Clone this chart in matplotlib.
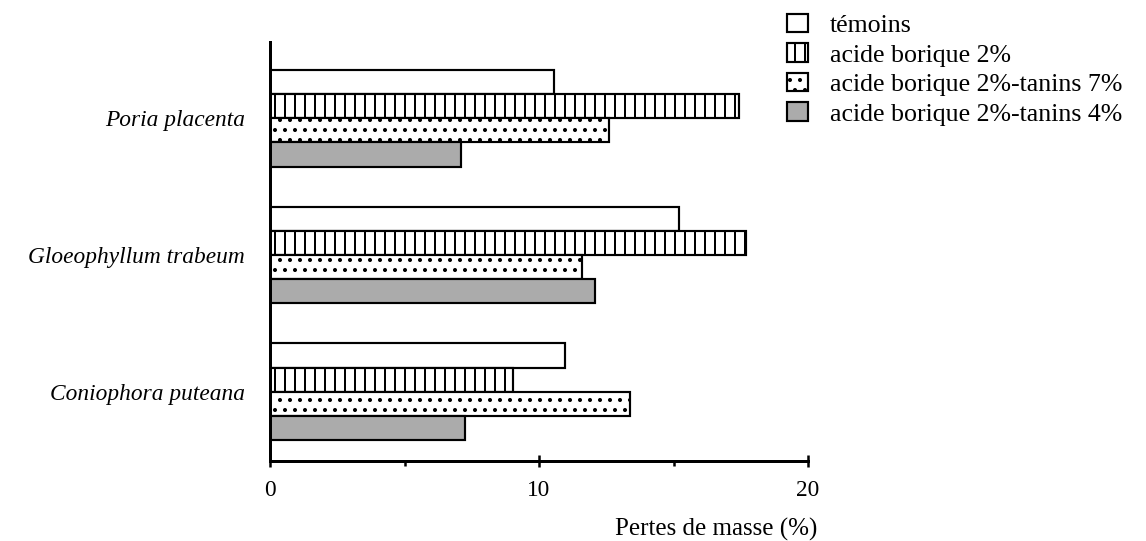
import matplotlib
matplotlib.use("Agg")
import matplotlib.pyplot as plt
import numpy as np

species = ["Poria placenta", "Gloeophyllum trabeum", "Coniophora puteana"]
series_names = ["témoins", "acide borique 2%", "acide borique 2%-tanins 7%", "acide borique 2%-tanins 4%"]
temoins = [10.55, 15.2, 10.95]
acide_borique = [17.45, 17.7, 9.05]
tanins7 = [12.6, 11.6, 13.4]
tanins4 = [7.1, 12.1, 7.25]
xticks = [0, 10, 20]
xlabel = "Pertes de masse (%)"

plt.rcParams['font.family'] = ['Liberation Serif', 'DejaVu Serif']
plt.rcParams['hatch.linewidth'] = 1.2

DPI = 120
fig = plt.figure(figsize=(1146 / DPI, 541 / DPI), dpi=DPI)
ax = fig.add_axes([270 / 1146, 80 / 541, 538 / 1146, 419 / 541])

ypos = np.array([2, 1, 0], dtype=float)
h = 0.177
styles = [
    dict(facecolor="white", hatch=None),
    dict(facecolor="white", hatch="||"),
    dict(facecolor="white", hatch=".."),
    dict(facecolor="#ababab", hatch=None),
]
offsets = [1.5, 0.5, -0.5, -1.5]
handles = []
for vals, name, st, off in zip([temoins, acide_borique, tanins7, tanins4], series_names, styles, offsets):
    b = ax.barh(ypos + off * h, vals, height=h, facecolor=st["facecolor"], hatch=st["hatch"],
                edgecolor="black", linewidth=1.3, label=name)
    handles.append(b)

ax.set_xlim(0, 20)
ax.set_ylim(-0.504, 2.555)
ax.set_xticks(xticks)
ax.set_xticklabels([str(t) for t in xticks], fontsize=14)
ax.set_xticks([5, 15], minor=True)
ax.tick_params(axis="x", which="major", direction="inout", length=7, width=1.5, pad=8)
ax.tick_params(axis="x", which="minor", direction="out", length=3, width=1.5)
ax.set_yticks(ypos)
ax.set_yticklabels(species, fontsize=14, style="italic")
ax.tick_params(axis="y", length=0, pad=15)
for s in ["top", "right"]:
    ax.spines[s].set_visible(False)
for s in ["left", "bottom"]:
    ax.spines[s].set_linewidth(1.8)

lab = ax.set_xlabel(xlabel, fontsize=15)
ax.xaxis.set_label_coords((817 - 270) / 538, (461 - 536) / 419)
lab.set_ha("right")
lab.set_va("baseline")

fig.legend(handles=handles, labels=series_names, loc="upper left",
           bbox_to_anchor=(787 / 1146, 1 - 14 / 541), frameon=False, fontsize=15.5,
           handlelength=0.82, handleheight=0.72, handletextpad=0.85,
           labelspacing=0.24, borderaxespad=0.0, borderpad=0.0)

fig.savefig("out.png", dpi=DPI)
